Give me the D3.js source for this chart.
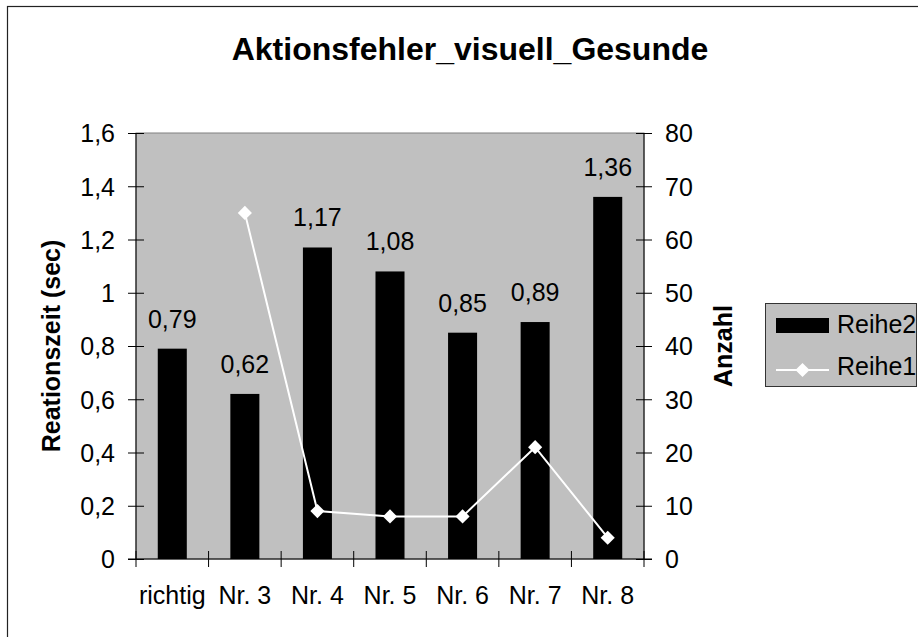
<!DOCTYPE html>
<html><head><meta charset="utf-8">
<script src="https://cdn.jsdelivr.net/npm/d3@7/dist/d3.min.js"></script>
<style>
body{margin:0;background:#fff;}
text{font-family:Arial,"Liberation Sans",sans-serif;fill:#000;}
</style></head>
<body>
<svg id="c" width="918" height="637"></svg>
<script>
const categories = ["richtig","Nr. 3","Nr. 4","Nr. 5","Nr. 6","Nr. 7","Nr. 8"];
const reihe2 = [0.79,0.62,1.17,1.08,0.85,0.89,1.36];   // bars, left axis
const reihe1 = [null,65,9,8,8,21,4];                    // line, right axis
const leftTicks = [0,0.2,0.4,0.6,0.8,1,1.2,1.4,1.6];
const rightTicks = [0,10,20,30,40,50,60,70,80];
const title = "Aktionsfehler_visuell_Gesunde";
const leftTitle = "Reationszeit (sec)";
const rightTitle = "Anzahl";
const seriesNames = ["Reihe2","Reihe1"];

const loc = d3.formatLocale({decimal:",",thousands:".",grouping:[3],currency:["","€"]});
const fmtTick = loc.format("~r");
const fmtLab = loc.format(".2f");
const FS = 25;

const svg = d3.select("#c");
const m = {l:136, r:644, t:133, b:559};

// outer frame
svg.append("rect").attr("x",7.5).attr("y",6.5).attr("width",930).attr("height",650)
  .attr("fill","#fff").attr("stroke","#222").attr("stroke-width",1.2);

const x = d3.scaleBand().domain(categories).range([m.l,m.r]).paddingInner(0).paddingOuter(0);
const yL = d3.scaleLinear().domain([0,1.6]).range([m.b,m.t]);
const yR = d3.scaleLinear().domain([0,80]).range([m.b,m.t]);

// plot area
svg.append("rect").attr("x",m.l).attr("y",m.t).attr("width",m.r-m.l).attr("height",m.b-m.t)
  .attr("fill","#c0c0c0").attr("stroke","#808080").attr("stroke-width",1);

// bars
const bw = x.bandwidth()*0.4;
svg.append("g").selectAll("rect").data(reihe2).join("rect")
  .attr("x",(d,i)=>x(categories[i])+x.bandwidth()/2-bw/2)
  .attr("y",d=>yL(d)).attr("width",bw).attr("height",d=>yL(0)-yL(d))
  .attr("fill","#000");

// data labels
svg.append("g").selectAll("text").data(reihe2).join("text")
  .attr("x",(d,i)=>x(categories[i])+x.bandwidth()/2)
  .attr("y",d=>yL(d)-21).attr("text-anchor","middle").attr("font-size",FS)
  .text(d=>fmtLab(d));

// left axis
const gL = svg.append("g").attr("transform",`translate(${m.l},0)`)
  .call(d3.axisLeft(yL).tickValues(leftTicks).tickFormat(fmtTick).tickSize(8).tickPadding(13));
gL.select(".domain").attr("stroke","#000").attr("d",`M0,${m.t}V${m.b}`);
gL.selectAll(".tick line").attr("x1",8).attr("stroke","#000");
gL.selectAll(".tick text").attr("font-size",FS).attr("font-family",null).attr("dy","0.35em");

// right axis
const gR = svg.append("g").attr("transform",`translate(${m.r},0)`)
  .call(d3.axisRight(yR).tickValues(rightTicks).tickSize(8).tickPadding(13));
gR.select(".domain").attr("stroke","#000").attr("d",`M0,${m.t}V${m.b}`);
gR.selectAll(".tick line").attr("x1",-8).attr("stroke","#000");
gR.selectAll(".tick text").attr("font-size",FS).attr("font-family",null).attr("dy","0.35em");

// bottom axis
const gB = svg.append("g");
gB.append("line").attr("x1",m.l-8).attr("x2",m.r+8).attr("y1",m.b).attr("y2",m.b).attr("stroke","#000");
const edges = categories.map(c=>x(c)).concat([m.r]);
gB.selectAll("line.t").data(edges).join("line").attr("class","t")
  .attr("x1",d=>d).attr("x2",d=>d).attr("y1",m.b-8).attr("y2",m.b+8).attr("stroke","#000");
gB.selectAll("text").data(categories).join("text")
  .attr("x",d=>x(d)+x.bandwidth()/2).attr("y",604).attr("text-anchor","middle")
  .attr("font-size",FS).text(d=>d);

// line series
const pts = reihe1.map((v,i)=>({v,c:categories[i]})).filter(d=>d.v!==null);
const line = d3.line().x(d=>x(d.c)+x.bandwidth()/2).y(d=>yR(d.v));
svg.append("path").datum(pts).attr("d",line).attr("fill","none").attr("stroke","#fff").attr("stroke-width",2);
svg.append("g").selectAll("path").data(pts).join("path")
  .attr("d",d3.symbol().type(d3.symbolSquare).size(100))
  .attr("transform",d=>`translate(${x(d.c)+x.bandwidth()/2},${yR(d.v)}) rotate(45)`)
  .attr("fill","#fff");

// titles
svg.append("text").attr("x",470).attr("y",60).attr("text-anchor","middle")
  .attr("font-size",32).attr("font-weight","bold").text(title);
svg.append("text").attr("transform",`translate(60,346) rotate(-90)`).attr("text-anchor","middle")
  .attr("font-size",FS).attr("font-weight","bold").text(leftTitle);
svg.append("text").attr("transform",`translate(732,346) rotate(-90)`).attr("text-anchor","middle")
  .attr("font-size",FS).attr("font-weight","bold").text(rightTitle);

// legend
const lg = svg.append("g");
lg.append("rect").attr("x",765.5).attr("y",303.5).attr("width",151).attr("height",83)
  .attr("fill","#c0c0c0").attr("stroke","#333").attr("stroke-width",1);
lg.append("rect").attr("x",776).attr("y",318).attr("width",53).attr("height",15).attr("fill","#000");
lg.append("line").attr("x1",776).attr("x2",829).attr("y1",370).attr("y2",370).attr("stroke","#fff").attr("stroke-width",2);
lg.append("path").attr("d",d3.symbol().type(d3.symbolSquare).size(100))
  .attr("transform","translate(802.5,370) rotate(45)").attr("fill","#fff");
lg.selectAll("text.l").data(seriesNames).join("text").attr("class","l")
  .attr("x",837).attr("y",(d,i)=>333+i*42).attr("font-size",FS).text(d=>d);
</script>
</body></html>
